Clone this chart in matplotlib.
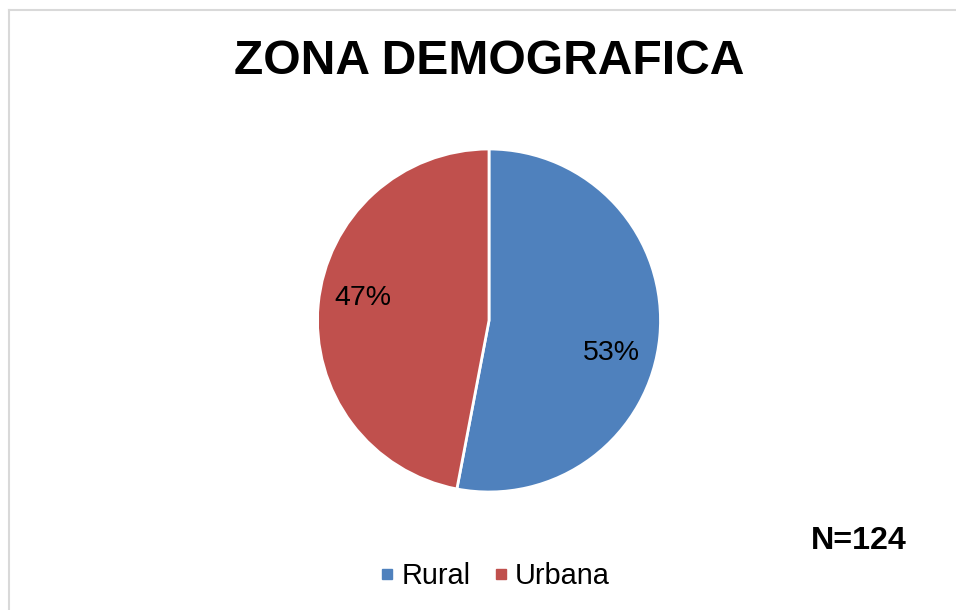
import matplotlib.pyplot as plt
from matplotlib.lines import Line2D

labels = ["Rural", "Urbana"]
values = [53, 47]
colors = ["#4F81BD", "#C0504D"]
title = "ZONA DEMOGRAFICA"
note = "N=124"

plt.rcParams['font.family'] = ['Liberation Sans', 'DejaVu Sans']

W, H = 956, 610
fig = plt.figure(figsize=(W / 100, H / 100), dpi=100)

# light grey frame (only top and left show in the crop)
fig.add_artist(Line2D([9 / W, 9 / W], [0, 1 - 10 / H], color="#D9D9D9", lw=1.5))
fig.add_artist(Line2D([9 / W, 1], [1 - 10 / H, 1 - 10 / H], color="#D9D9D9", lw=1.5))

# pie axes placed in pixels: centre (489, 320), radius 171
cx, cy, r = 489, 320.5, 171.5
ax = fig.add_axes([(cx - r) / W, (H - cy - r) / H, 2 * r / W, 2 * r / H])
wedges, _ = ax.pie(values, colors=colors, startangle=90, counterclock=False,
                   radius=1, wedgeprops=dict(edgecolor="white", linewidth=2))
ax.set_xlim(-1.0, 1.0)
ax.set_ylim(-1.0, 1.0)
ax.axis("off")

# data labels (Excel best-fit positions)
ax.text(0.713, -0.19, f"{values[0]}%", ha="center", va="center", fontsize=20.5)
ax.text(-0.735, 0.13, f"{values[1]}%", ha="center", va="center", fontsize=20.5)

fig.text(cx / W, 1 - 62 / H, title, ha="center", va="center",
         fontsize=34.6, fontweight="bold")
fig.text(907 / W, 1 - 541 / H, note, ha="right", va="center",
         fontsize=23.2, fontweight="bold")

handles = [Line2D([], [], marker="s", color=c, linestyle="none", markersize=7)
           for c in colors]
fig.legend(handles, labels, loc="center", bbox_to_anchor=(494 / W, 1 - 576 / H),
           ncol=2, frameon=False, fontsize=20.8, handlelength=0.6,
           handletextpad=0.2, columnspacing=0.75)

fig.savefig("out.png", dpi=100)
